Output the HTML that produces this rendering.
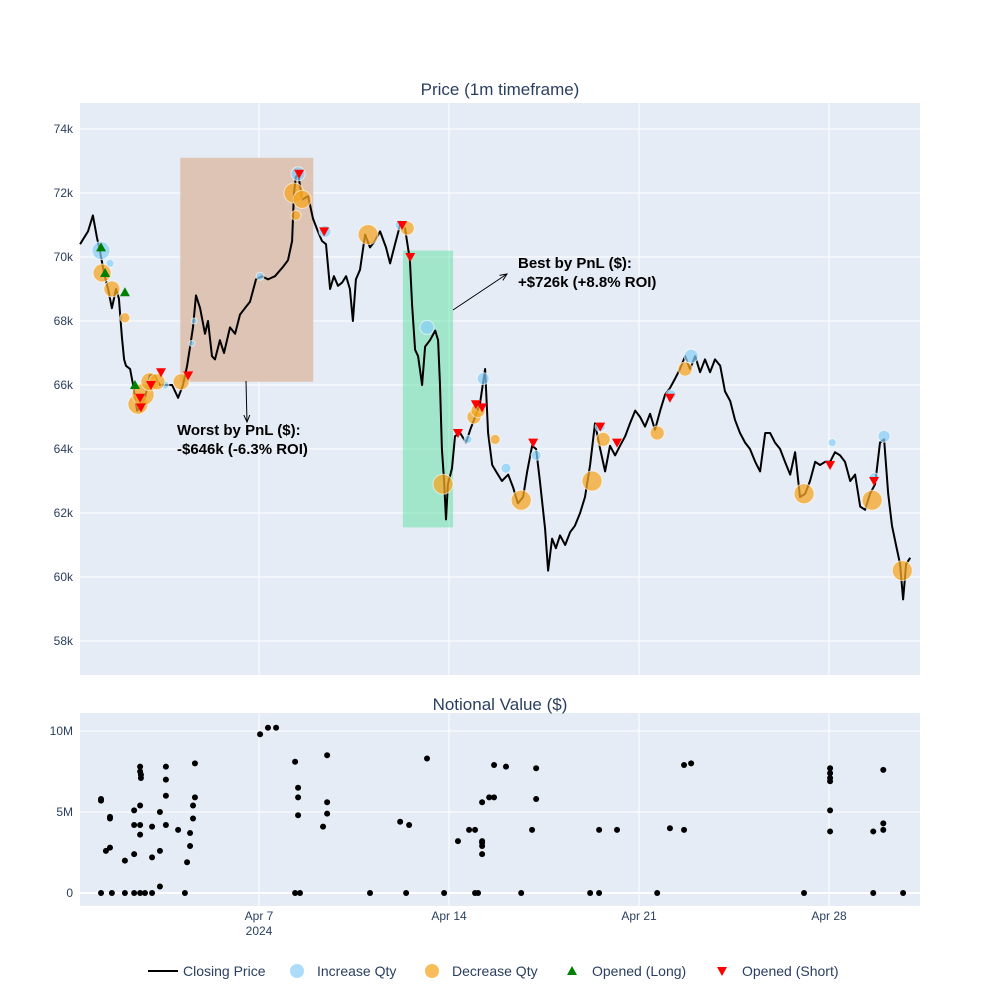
<!DOCTYPE html>
<html><head><meta charset="utf-8"><style>
html,body{margin:0;padding:0;background:#fff;}
svg{display:block;font-family:"Liberation Sans",sans-serif;}
</style></head><body>
<svg id="chart" width="1000" height="1000" viewBox="0 0 1000 1000" xmlns="http://www.w3.org/2000/svg"></svg>
<script>
// ---- data (days since Mar 31 2024, price in $k) ----
const closeDays=[0.41,0.70,0.88,1.03,1.14,1.29,1.44,1.58,1.73,1.84,1.95,2.03,2.10,2.25,2.36,2.51,2.62,2.80,2.98,3.17,3.35,3.54,3.80,4.02,4.20,4.35,4.46,4.57,4.68,4.83,5.01,5.12,5.27,5.38,5.56,5.71,5.93,6.12,6.30,6.48,6.67,6.89,7.11,7.33,7.59,7.89,8.07,8.22,8.29,8.36,8.44,8.59,8.81,8.99,9.17,9.32,9.47,9.62,9.76,9.91,10.06,10.21,10.35,10.46,10.57,10.72,10.91,11.09,11.27,11.46,11.68,11.83,12.01,12.20,12.38,12.56,12.64,12.75,12.86,13.01,13.12,13.30,13.49,13.60,13.67,13.74,13.82,13.89,13.96,14.11,14.22,14.41,14.63,14.78,14.96,15.14,15.33,15.44,15.59,15.73,15.95,16.18,16.36,16.54,16.73,16.88,17.06,17.21,17.35,17.54,17.65,17.80,17.94,18.09,18.28,18.46,18.64,18.83,19.01,19.20,19.38,19.57,19.75,19.93,20.12,20.30,20.49,20.67,20.86,21.04,21.22,21.41,21.59,21.78,21.96,22.14,22.33,22.51,22.70,22.88,23.07,23.25,23.43,23.62,23.80,23.99,24.17,24.36,24.54,24.72,24.91,25.09,25.28,25.46,25.65,25.83,26.01,26.20,26.38,26.57,26.75,26.93,27.12,27.30,27.49,27.67,27.86,28.04,28.22,28.41,28.59,28.78,28.96,29.15,29.33,29.51,29.70,29.88,30.03,30.18,30.32,30.47,30.62,30.73,30.84,30.99];
const closePrices=[70.4,70.8,71.3,70.6,70.2,69.5,69.0,68.4,69.0,68.7,67.5,66.8,66.6,66.5,66.0,65.2,65.3,65.6,66.3,66.3,66.0,66.0,66.0,65.6,66.0,66.6,67.2,67.8,68.8,68.4,67.6,68.0,66.9,66.8,67.4,67.0,67.8,67.6,68.2,68.4,68.6,69.3,69.4,69.3,69.4,69.7,69.9,70.5,72.0,72.5,72.6,71.8,71.9,71.2,70.8,70.5,70.4,69.0,69.4,69.1,69.2,69.4,69.0,68.0,69.3,69.6,70.7,70.3,70.5,70.8,70.3,69.8,70.4,71.0,70.9,69.9,68.5,67.1,66.9,66.0,67.2,67.4,67.7,67.4,66.0,64.0,63.0,61.8,62.9,63.4,64.4,64.5,64.2,64.6,65.0,65.4,66.5,64.5,63.5,63.3,63.0,63.2,62.8,62.3,62.5,63.3,64.1,64.0,63.0,61.5,60.2,61.2,60.9,61.3,61.0,61.4,61.6,62.0,62.5,63.5,64.8,64.0,63.3,64.1,63.8,64.1,64.4,64.8,65.2,65.0,64.7,65.1,64.6,65.2,65.7,65.9,66.2,66.5,66.9,66.5,66.9,66.4,66.8,66.4,66.8,66.6,65.8,65.5,64.9,64.5,64.2,64.0,63.6,63.3,64.5,64.5,64.2,64.0,63.6,63.2,63.9,62.5,62.6,63.0,63.6,63.5,63.6,63.6,63.9,63.8,63.6,63.0,63.2,62.2,62.1,62.6,62.9,64.2,64.3,62.6,61.6,61.0,60.4,59.3,60.4,60.6];
const incDays=[1.18,1.51,2.91,3.54,4.53,4.61,7.04,8.44,9.43,12.20,13.19,14.70,15.26,16.10,17.21,19.57,22.18,22.92,28.12,30.03,29.66];
const incPrices=[70.2,69.8,66.0,66.0,67.3,68.0,69.4,72.6,70.8,71.0,67.8,64.3,66.2,63.4,63.8,64.7,65.7,66.9,64.2,64.4,63.1];
const incSizes=[9,4,5,4,3,3,4,7,6,5,7,4,6,5,5,5,5,7,4,6,5];
const decDays=[1.22,1.58,2.06,2.54,2.73,2.98,3.24,4.13,8.29,8.59,8.36,11.02,12.46,13.78,14.92,15.07,15.70,16.66,19.27,19.68,21.67,22.70,27.08,29.59,30.70];
const decPrices=[69.5,69.0,68.1,65.4,65.7,66.1,66.1,66.1,72.0,71.8,71.3,70.7,70.9,62.9,65.0,65.2,64.3,62.4,63.0,64.3,64.5,66.5,62.6,62.4,60.2];
const decSizes=[9,8,5,10,11,9,8,8,10,9,5,10,7,10,7,7,5,10,10,7,7,7,10,10,10];
const longDays=[1.18,1.33,2.06,2.43];
const longPrices=[70.3,69.5,68.9,66.0];
const shortDays=[2.62,2.65,3.02,3.39,4.39,8.48,9.40,12.27,12.57,14.33,14.99,15.22,17.10,19.57,20.19,22.14,28.04,29.66];
const shortPrices=[65.6,65.3,66.0,66.4,66.3,72.6,70.8,71.0,70.0,64.5,65.4,65.3,64.2,64.7,64.2,65.6,63.5,63.0];
const notionalDays=[1.18,1.18,1.18,1.36,1.51,1.51,1.51,1.58,2.06,2.06,2.40,2.40,2.40,2.40,2.62,2.62,2.62,2.62,2.62,2.62,2.65,2.65,2.80,3.06,3.06,3.06,3.35,3.35,3.35,3.57,3.57,3.57,3.57,4.02,4.27,4.35,4.46,4.46,4.57,4.57,4.64,4.64,7.04,7.33,7.63,8.33,8.33,8.44,8.44,8.44,8.51,9.36,9.51,9.51,9.51,11.09,12.20,12.42,12.53,13.19,13.82,14.33,14.74,14.96,14.96,15.07,15.22,15.22,15.22,15.22,15.22,15.48,15.66,15.66,16.10,16.66,17.06,17.21,17.21,19.20,19.53,19.53,20.19,21.67,22.14,22.66,22.66,22.92,27.08,28.04,28.04,28.04,28.04,28.04,28.04,29.63,29.63,30.00,30.00,30.00,30.73];
const notionalValues=[5.8,5.7,0,2.6,4.7,4.6,2.8,0,2.0,0,5.1,4.2,2.4,0,7.8,7.5,5.4,4.2,3.6,0,7.3,7.1,0,4.1,2.2,0,5.0,2.6,0.4,7.8,7.0,6.0,4.2,3.9,0,1.9,3.7,2.9,5.4,4.6,5.9,8.0,9.8,10.2,10.2,8.1,0,6.5,5.9,4.8,0,4.1,5.6,4.9,8.5,0,4.4,0,4.2,8.3,0,3.2,3.9,3.9,0,0,5.6,3.1,2.9,2.4,3.2,5.9,7.9,5.9,7.8,0,3.9,7.7,5.8,0,3.9,0,3.9,0,4.0,7.9,3.9,8.0,0,7.7,7.4,7.1,6.9,5.1,3.8,3.8,0,7.6,4.3,3.9,0];
const priceTicks=[58,60,62,64,66,68,70,72,74];
const notionalTicks=[0,5,10];
const dateTickDays=[7,14,21,28];
const dateTickLabels=["Apr 7","Apr 14","Apr 21","Apr 28"];

// ---- axes ----
const X0=80,X1=920;
const xDay=d=>69+d*27.1429;
const yP=v=>641-(v-58)*32;
const yN=v=>893-v*16.2;
const NS="http://www.w3.org/2000/svg";
const svg=document.getElementById('chart');
function mk(tag,attrs,parent){const e=document.createElementNS(NS,tag);for(const k in attrs)e.setAttribute(k,attrs[k]);(parent||svg).appendChild(e);return e;}

// backgrounds
let e=mk('rect',{x:X0,y:103,width:X1-X0,height:572,fill:'#e5ecf6'});


e=mk('rect',{x:X0,y:713,width:X1-X0,height:193,fill:'#e5ecf6'});



// grid
priceTicks.forEach(t=>{
  e=mk('line',{x1:X0,x2:X1,y1:yP(t),y2:yP(t),stroke:'#fff','stroke-width':1});
  
  
  e=mk('text',{x:73,y:yP(t)+4,'text-anchor':'end','font-size':12,fill:'#2a3f5f'});
  e.textContent=t+'k';
  
  
});
notionalTicks.forEach(t=>{
  e=mk('line',{x1:X0,x2:X1,y1:yN(t),y2:yN(t),stroke:'#fff','stroke-width':t===0?2:1});
  
  
  e=mk('text',{x:73,y:yN(t)+4,'text-anchor':'end','font-size':12,fill:'#2a3f5f'});
  e.textContent=t===0?'0':t+'M';
  
  
});
dateTickDays.forEach((d,i)=>{
  [[103,675],[713,906]].forEach(r=>{
    e=mk('line',{x1:xDay(d),x2:xDay(d),y1:r[0],y2:r[1],stroke:'#fff','stroke-width':1});
    
    
  });
  e=mk('text',{x:xDay(d),y:920,'text-anchor':'middle','font-size':12,fill:'#2a3f5f'});
  e.textContent=dateTickLabels[i];
  
  
});
e=mk('text',{x:xDay(7),y:935,'text-anchor':'middle','font-size':12,fill:'#2a3f5f'});
e.textContent='2024';



// shaded regions
e=mk('rect',{x:xDay(4.1),y:yP(73.1),width:xDay(9.0)-xDay(4.1),height:yP(66.1)-yP(73.1),fill:'rgb(222,196,180)'});


e=mk('rect',{x:xDay(12.3),y:yP(70.2),width:xDay(14.15)-xDay(12.3),height:yP(61.55)-yP(70.2),fill:'rgba(60,220,140,0.4)'});



// close line
const pts=closeDays.map((d,i)=>xDay(d).toFixed(1)+','+yP(closePrices[i]).toFixed(1)).join(' ');
e=mk('polyline',{points:pts,fill:'none',stroke:'#000','stroke-width':2,'stroke-linejoin':'round'});



// markers
incDays.forEach((d,i)=>{
  e=mk('circle',{cx:xDay(d),cy:yP(incPrices[i]),r:incSizes[i],fill:'rgba(135,206,250,0.7)',stroke:'rgba(255,255,255,0.6)','stroke-width':1});
  
  
});
decDays.forEach((d,i)=>{
  e=mk('circle',{cx:xDay(d),cy:yP(decPrices[i]),r:decSizes[i],fill:'rgba(245,166,35,0.75)',stroke:'rgba(255,255,255,0.6)','stroke-width':1});
  
  
});
longDays.forEach((d,i)=>{
  const x=xDay(d),y=yP(longPrices[i]);
  e=mk('polygon',{points:`${x-5},${y+4} ${x+5},${y+4} ${x},${y-5}`,fill:'#008000'});
  
  
});
shortDays.forEach((d,i)=>{
  const x=xDay(d),y=yP(shortPrices[i]);
  e=mk('polygon',{points:`${x-5},${y-4} ${x+5},${y-4} ${x},${y+5}`,fill:'#ff0000'});
  
  
});

// notional dots
notionalDays.forEach((d,i)=>{
  e=mk('circle',{cx:xDay(d),cy:yN(notionalValues[i]),r:3,fill:'#000'});
  
  
});

// annotations
mk('defs',{}).innerHTML='<marker id="ah" markerWidth="8" markerHeight="8" refX="7" refY="4" orient="auto"><path d="M0,1 L7,4 L0,7" fill="none" stroke="#000" stroke-width="1"/></marker>';
e=mk('line',{x1:453,y1:310,x2:507,y2:274,stroke:'#000','stroke-width':1,'marker-end':'url(#ah)'});


e=mk('line',{x1:246,y1:381,x2:247,y2:422,stroke:'#000','stroke-width':1,'marker-end':'url(#ah)'});


e=mk('text',{x:518,y:268,'font-size':15,'font-weight':'bold',fill:'#000'});
e.innerHTML='<tspan x="518">Best by PnL ($):</tspan><tspan x="518" dy="19">+$726k (+8.8% ROI)</tspan>';


e=mk('text',{x:177,y:435,'font-size':15,'font-weight':'bold',fill:'#000'});
e.innerHTML='<tspan x="177">Worst by PnL ($):</tspan><tspan x="177" dy="19">-$646k (-6.3% ROI)</tspan>';



// titles
e=mk('text',{x:500,y:95,'text-anchor':'middle','font-size':17,fill:'#2a3f5f'});
e.textContent='Price (1m timeframe)';


e=mk('text',{x:500,y:710,'text-anchor':'middle','font-size':17,fill:'#2a3f5f'});
e.textContent='Notional Value ($)';



// legend
const lg=mk('g',{});


e=mk('line',{x1:148,x2:178,y1:971,y2:971,stroke:'#000','stroke-width':2},lg);


e=mk('circle',{cx:297,cy:971,r:7,fill:'rgba(135,206,250,0.7)'},lg);


e=mk('circle',{cx:432,cy:971,r:7,fill:'rgba(245,166,35,0.75)'},lg);


e=mk('polygon',{points:'567,975 577,975 572,966',fill:'#008000'},lg);


e=mk('polygon',{points:'717,967 727,967 722,976',fill:'#ff0000'},lg);


[['Closing Price',183,'legend-closing-price'],['Increase Qty',317,'legend-increase-qty'],['Decrease Qty',452,'legend-decrease-qty'],['Opened (Long)',592,'legend-opened-long'],['Opened (Short)',742,'legend-opened-short']].forEach(l=>{
  e=mk('text',{x:l[1],y:976,'font-size':14,fill:'#2a3f5f'},lg);
  e.textContent=l[0];
  
  
});
</script>
</body></html>
